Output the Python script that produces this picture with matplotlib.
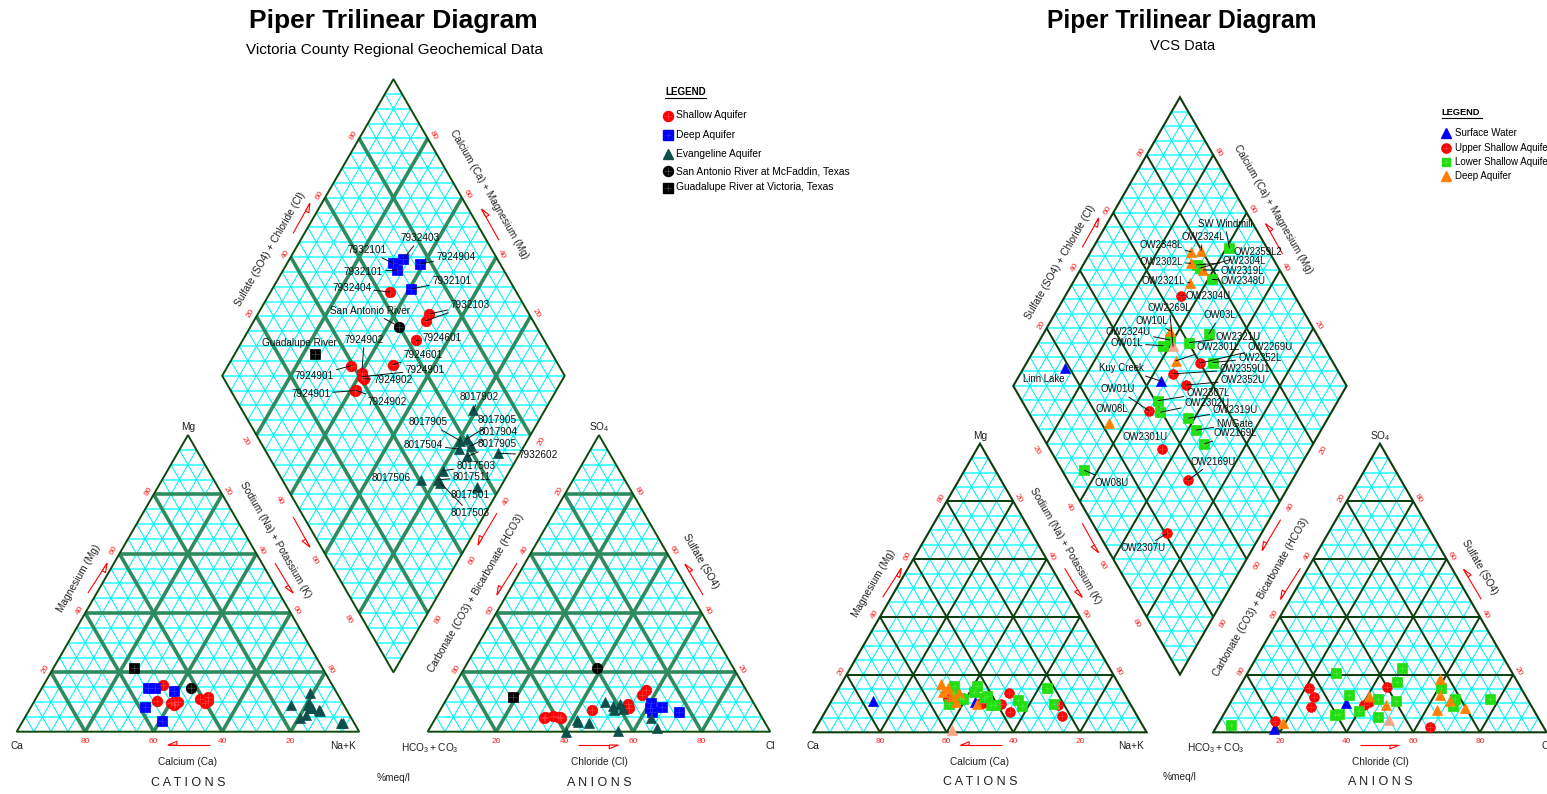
import numpy as np
import matplotlib
matplotlib.use('Agg')
import matplotlib.pyplot as plt
from matplotlib.collections import LineCollection
from matplotlib.patches import Polygon

plt.rcParams['font.family'] = ['Liberation Sans', 'DejaVu Sans']
plt.rcParams['mathtext.fontset'] = 'custom'
plt.rcParams['mathtext.rm'] = 'Liberation Sans'

H = np.sqrt(3) / 2
GAP = 0.2
W, HGT = 1547, 794

# ---------------- Left chart: Victoria County (percent meq/l) ----------------
L_groups = ['Shallow Aquifer', 'Deep Aquifer', 'Evangeline Aquifer',
            'San Antonio River at McFaddin, Texas', 'Guadalupe River at Victoria, Texas']
L_names = ['7932404', '7932103', '7932103', '7924601', '7924601', '7924901', '7924902',
           '7924901', '7924902', '7924901', '7924902',
           '7932403', '7932101', '7932101', '7924904', '7932101',
           '8017902', '8017905', '8017905', '8017904', '8017905', '8017504', '7932602',
           '8017503', '8017511', '8017503', '8017506', '8017501',
           'San Antonio River', 'Guadalupe River']
L_group = [0] * 11 + [1] * 5 + [2] * 12 + [3, 4]
L_mg = [15.7, 11.8, 9.8, 10.5, 10.9, 10.4, 9.6, 10.1, 10.0, 9.0, 9.2,
        8.4, 14.6, 14.6, 13.8, 3.7,
        12.9, 9.6, 8.0, 7.3, 7.0, 7.9, 3.0, 4.7, 9.0, 5.5, 9.0, 3.0,
        14.6, 21.4]
L_na = [35.0, 50.0, 50.2, 50.7, 48.0, 35.9, 40.2, 41.0, 42.0, 41.3, 41.5,
        33.2, 30.9, 33.2, 38.9, 40.6,
        79.2, 80.4, 82.1, 84.5, 85.2, 81.6, 93.7, 80.4, 80.5, 81.6, 75.6, 93.2,
        43.5, 23.6]
L_so4 = [9.2, 14.1, 12.4, 7.9, 7.3, 5.4, 4.7, 5.1, 5.0, 4.7, 4.8,
         8.4, 6.7, 8.0, 6.5, 9.6,
         4.5, 8.7, 9.2, 7.5, 7.3, 10.1, 1.1, 2.8, 3.9, 3.4, 0.0, 0.3,
         21.4, 11.6]
L_cl = [54.0, 56.7, 56.3, 54.7, 44.4, 33.9, 36.6, 35.6, 36.0, 31.6, 31.8,
        64.2, 62.1, 60.8, 70.1, 60.3,
        63.0, 49.8, 51.6, 53.4, 50.7, 46.8, 66.5, 45.6, 41.5, 42.2, 40.5, 55.5,
        38.6, 19.2]

# label text positions (figure pixels from top-left) and leader flags
L_lab = [(351.7, 287.7), (470, 305), (470, 305), (441.7, 338.3), (423.3, 355), (314, 376),
         (364.3, 340), (425, 370), (393.3, 380), (310.7, 394), (386.7, 401.7),
         (420, 238), (366.7, 250), (363.3, 271.7), (456, 256.7), (451.7, 281),
         (479, 397), (428, 422), (497, 420), (498, 432), (497, 444), (423, 445), (538, 455),
         (476, 466), (472, 477), (470, 513), (391, 478), (470, 495),
         (370, 310.7), (299, 343.3)]
L_leader = [1] * 26 + [0, 0, 1, 0]

# ---------------- Right chart: VCS data (percent meq/l) ----------------
R_groups = ['Surface Water', 'Upper Shallow Aquifer', 'Lower Shallow Aquifer', 'Deep Aquifer', None]
R_names = ['Linn Lake', 'Kuy Creek',
           'OW2304U', 'OW2269U', 'OW2359U1', 'OW2352U', 'OW01U', 'OW2301U', 'OW2169U', 'OW2307U',
           'SW Windmill', 'OW2304L', 'OW2359L2', 'OW2348U', 'OW03L', 'OW2324U', 'OW01L', 'OW2321U',
           'OW2352L', 'OW2307L', 'OW2302U', 'OW2319U', 'NWGate', 'OW2169L', 'OW08U',
           'OW2348L', 'OW2324L', 'OW2302L', 'OW2319L', 'OW2321L', 'OW10L', 'OW2301L', 'OW08L',
           'OW2269L']
R_group = [0, 0] + [1] * 8 + [2] * 15 + [3] * 8 + [4]
R_mg = [11.0, 10.4,
        11.4, 13.5, 10.3, 9.7, 10.0, 7.1, 9.5, 5.8,
        16.0, 16.0, 13.5, 13.9, 9.5, 11.5, 12.0, 12.0, 11.2, 12.5, 9.5, 9.1, 15.2, 9.7, 9.7,
        16.7, 15.2, 14.0, 13.5, 12.5, 10.6, 9.7, 13.0, 0.8]
R_na = [12.5, 43.4,
        34.7, 52.1, 45.9, 51.6, 45.2, 55.6, 68.8, 71.6,
        41.0, 34.1, 35.6, 41.2, 49.7, 39.1, 38.1, 45.3, 55.8, 46.0, 48.7, 58.1, 62.5, 67.4, 35.9,
        30.1, 32.9, 32.0, 36.9, 35.1, 37.5, 44.4, 35.2, 41.1]
R_so4 = [1.0, 10.3,
         1.7, 15.6, 9.5, 10.6, 12.3, 8.9, 15.2, 3.9,
         11.4, 15.5, 9.1, 11.4, 22.2, 11.4, 5.2, 10.9, 17.3, 6.4, 6.0, 20.4, 12.9, 7.4, 2.5,
         11.0, 8.5, 12.9, 18.4, 7.7, 9.5, 12.6, 3.3, 4.3]
R_cl = [17.6, 34.8,
        64.2, 44.4, 40.6, 41.3, 24.2, 25.0, 21.0, 16.6,
        77.3, 60.5, 67.3, 66.7, 45.5, 43.6, 46.8, 49.4, 46.6, 34.5, 33.6, 26.5, 34.3, 39.9, 4.2,
        65.6, 71.3, 61.6, 58.7, 63.2, 47.1, 40.5, 19.2, 50.5]
R_lab = [(1043.3, 379), (1121.7, 368.3),
         (1208.3, 296), (1270, 346.7), (1245, 369.3), (1243.3, 380), (1117.3, 389.3),
         (1145, 437.3), (1213.3, 461.7), (1143.3, 548.3),
         (1225, 224), (1244.3, 261), (1258.3, 251.7), (1243.3, 281), (1220, 315.3),
         (1128.3, 331.7), (1126.7, 343.3), (1238.3, 336.7), (1260, 357.7), (1208.3, 392.7),
         (1206.7, 402.7), (1235, 410), (1235, 424), (1235, 433.3), (1111.7, 482.7),
         (1161, 245), (1202.7, 237.3), (1161, 261.7), (1242.7, 271), (1163.3, 281),
         (1151.7, 320.7), (1218.3, 346.7), (1111.7, 409.3), (1169.3, 307.7)]
R_leader = [0, 1, 1, 1, 1, 1, 1, 0, 1, 1] + [1] * 15 + [1] * 7 + [0, 1]

TICKS = [20, 40, 60, 80]

L_styles = [dict(marker='o', color='#ff0000', ms=7.6, cross='#ff4a4a'),
            dict(marker='s', color='#0000ff', ms=7.0, cross='#3a3aff'),
            dict(marker='^', color='#0d4f4b', ms=7.8, cross=None),
            dict(marker='o', color='#000000', ms=7.6, cross='#5a5a5a'),
            dict(marker='s', color='#000000', ms=7.0, cross='#5a5a5a')]
R_styles = [dict(marker='^', color='#0000ff', ms=7.0, cross=None),
            dict(marker='o', color='#ff0000', ms=7.0, cross='#ff4a4a'),
            dict(marker='s', color='#22dd11', ms=6.6, cross='#50ee40'),
            dict(marker='^', color='#ff8000', ms=7.0, cross=None),
            dict(marker='^', color='#f6a58a', ms=7.0, cross=None)]


# ---------------- geometry ----------------
def dpt(c, a):
    """diamond point from Ca+Mg fraction c and SO4+Cl fraction a"""
    return (1 + GAP / 2 + 0.5 * (a - c), H * GAP + H * (a + c))


def cation_xy(mg, na):
    mg = np.asarray(mg) / 100.0
    na = np.asarray(na) / 100.0
    return na + mg / 2, H * mg


def anion_xy(so4, cl):
    so4 = np.asarray(so4) / 100.0
    cl = np.asarray(cl) / 100.0
    return 1 + GAP + cl + so4 / 2, H * so4


def diamond_xy(mg, na, so4, cl):
    c = 1 - np.asarray(na) / 100.0
    a = (np.asarray(so4) + np.asarray(cl)) / 100.0
    return 1 + GAP / 2 + 0.5 * (a - c), H * GAP + H * (a + c)


def draw_frame(ax, thick_color, thick_lw, edge_color, edge_lw):
    hseg, dseg = [], []
    for x0 in (0.0, 1 + GAP):
        for k in range(1, 20):
            t = k / 20
            hseg.append([(x0 + t / 2, t * H), (x0 + 1 - t / 2, t * H)])
            dseg.append([(x0 + t, 0), (x0 + t + (1 - t) / 2, (1 - t) * H)])
            dseg.append([(x0 + 1 - t, 0), (x0 + (1 - t) / 2, (1 - t) * H)])
    for k in range(1, 20):
        t = k / 20
        dseg.append([dpt(t, 0), dpt(t, 1)])
        dseg.append([dpt(0, t), dpt(1, t)])
    for k in range(1, 40):
        s = k / 20
        if s <= 1:
            hseg.append([dpt(s, 0), dpt(0, s)])
        else:
            hseg.append([dpt(1, s - 1), dpt(s - 1, 1)])
    ax.add_collection(LineCollection(hseg, colors='#4dffff', linewidths=1.35, zorder=1))
    ax.add_collection(LineCollection(dseg, colors='#00f0f0', linewidths=0.75, zorder=1.1))

    tseg = []
    for x0 in (0.0, 1 + GAP):
        for v in TICKS:
            t = v / 100
            tseg.append([(x0 + t / 2, t * H), (x0 + 1 - t / 2, t * H)])
            tseg.append([(x0 + t, 0), (x0 + t + (1 - t) / 2, (1 - t) * H)])
            tseg.append([(x0 + 1 - t, 0), (x0 + (1 - t) / 2, (1 - t) * H)])
    for v in TICKS:
        t = v / 100
        tseg.append([dpt(t, 0), dpt(t, 1)])
        tseg.append([dpt(0, t), dpt(1, t)])
    ax.add_collection(LineCollection(tseg, colors=thick_color, linewidths=thick_lw, zorder=2))

    for poly in ([(0, 0), (1, 0), (0.5, H)],
                 [(1 + GAP, 0), (2 + GAP, 0), (1.5 + GAP, H)],
                 [dpt(0, 0), dpt(0, 1), dpt(1, 1), dpt(1, 0)]):
        ax.add_patch(Polygon(poly, closed=True, fill=False, edgecolor=edge_color,
                             linewidth=edge_lw, zorder=3, joinstyle='miter'))


def tick_labels(ax, fs=6.0):
    tc = dict(color='#ff2020', fontsize=fs, ha='center', va='center', rotation_mode='anchor', zorder=4)
    dt, du, dl = 0.018, 0.018, 0.037
    for v in TICKS:
        t = v / 100
        # cation
        ax.text(t / 2 - H * dt, t * H + 0.5 * dt, str(v), rotation=60, **tc)
        ax.text(1 - t / 2 + H * dt, t * H + 0.5 * dt, str(100 - v), rotation=-60, **tc)
        ax.text(1 - t, -0.028, str(v), **tc)
        # anion
        x0 = 1 + GAP
        ax.text(x0 + t / 2 - H * dt, t * H + 0.5 * dt, str(100 - v), rotation=60, **tc)
        ax.text(x0 + 1 - t / 2 + H * dt, t * H + 0.5 * dt, str(v), rotation=-60, **tc)
        ax.text(x0 + t, -0.028, str(v), **tc)
        # diamond
        x, y = dpt(1, t)
        ax.text(x - H * du, y + 0.5 * du, str(v), rotation=60, **tc)
        x, y = dpt(t, 1)
        ax.text(x + H * du, y + 0.5 * du, str(v), rotation=-60, **tc)
        x, y = dpt(t, 0)
        ax.text(x - H * dl, y - 0.5 * dl, str(100 - v), rotation=-60, **tc)
        x, y = dpt(0, t)
        ax.text(x + H * dl, y - 0.5 * dl, str(100 - v), rotation=60, **tc)


def red_arrow(ax, p0, p1):
    p0, p1 = np.array(p0), np.array(p1)
    d = (p1 - p0) / np.linalg.norm(p1 - p0)
    n = np.array([d[1], -d[0]])
    ax.plot([p0[0], p1[0]], [p0[1], p1[1]], color='#ff0000', lw=0.8, zorder=4,
            solid_capstyle='butt')
    L, Wd = 0.026, 0.011
    head = [p1, p1 - L * d + Wd * n, p1 - L * d]
    ax.add_patch(Polygon(head, closed=True, facecolor='white', edgecolor='#ff0000',
                         lw=0.8, zorder=4))


def axis_texts(ax, fs=7.3):
    kw = dict(color='#202020', fontsize=fs, ha='center', va='center', rotation_mode='anchor', zorder=4)
    ax.text(0.5, 0.889, 'Mg', **kw)
    ax.text(0.0, -0.042, 'Ca', **kw)
    ax.text(0.953, -0.042, 'Na+K', **kw)
    ax.text(0.5, -0.088, 'Calcium (Ca)', **kw)
    ax.text(0.5, -0.150, 'C A T I O N S', **dict(kw, fontsize=9))
    ax.text(1.1, -0.135, '%meq/l', **kw)
    ax.text(1.7, 0.889, r'$\mathregular{SO_4}$', **kw)
    ax.text(1.207, -0.047, r'$\mathregular{HCO_3+CO_3}$', **kw)
    ax.text(2.2, -0.042, 'Cl', **kw)
    ax.text(1.7, -0.088, 'Chloride (Cl)', **kw)
    ax.text(1.7, -0.150, 'A N I O N S', **dict(kw, fontsize=9))
    ax.text(0.18, 0.448, 'Magnesium (Mg)', rotation=60, **kw)
    ax.text(0.755, 0.56, 'Sodium (Na) + Potassium (K)', rotation=-60, **kw)
    ax.text(1.342, 0.405, 'Carbonate (CO3) + Bicarbonate (HCO3)', rotation=60, **kw)
    ax.text(1.998, 0.497, 'Sulfate (SO4)', rotation=-60, **kw)
    ax.text(0.74, 1.41, 'Sulfate (SO4) + Chloride (Cl)', rotation=60, **kw)
    ax.text(1.38, 1.57, 'Calcium (Ca) + Magnesium (Mg)', rotation=-60, **kw)
    for p0, p1 in [((0.565, -0.039), (0.4416, -0.039)),
                   ((0.208, 0.405), (0.264, 0.492)),
                   ((0.754, 0.492), (0.807, 0.405)),
                   ((0.807, 0.627), (0.856, 0.539)),
                   ((1.402, 0.638), (1.347, 0.545)),
                   ((1.461, 0.492), (1.402, 0.399)),
                   ((2.004, 0.399), (1.951, 0.489)),
                   ((1.639, -0.039), (1.756, -0.039)),
                   ((0.807, 1.455), (0.856, 1.543)),
                   ((1.408, 1.435), (1.357, 1.526))]:
        red_arrow(ax, p0, p1)


def plot_points(ax, group, mg, na, so4, cl, styles):
    group = np.asarray(group)
    xc, yc = cation_xy(mg, na)
    xa, ya = anion_xy(so4, cl)
    xd, yd = diamond_xy(mg, na, so4, cl)
    for g, st in enumerate(styles):
        m = group == g
        if not m.any():
            continue
        for xs, ys in ((xc[m], yc[m]), (xa[m], ya[m]), (xd[m], yd[m])):
            ax.plot(xs, ys, ls='none', marker=st['marker'], ms=st['ms'], mfc=st['color'],
                    mec=st['color'], mew=0.5, zorder=5, clip_on=False)
            if st['cross']:
                ax.plot(xs, ys, ls='none', marker='+', ms=st['ms'] * 0.75, mec=st['cross'],
                        mew=0.4, zorder=5.1, clip_on=False)
    return xd, yd


def labels(ax, names, xd, yd, pos, leader, fs):
    seen = set()
    for nm, x, y, (px, py), ld in zip(names, xd, yd, pos, leader):
        key = (nm, px, py)
        col = (0, 0, 0, 0) if key in seen else '#111111'
        seen.add(key)
        ap = dict(arrowstyle='-', color='#111111', lw=0.7, shrinkA=0, shrinkB=0) if ld else None
        ax.annotate(nm, xy=(x, y), xycoords='data', xytext=(px, HGT - py),
                    textcoords='figure pixels', ha='center', va='center', fontsize=fs,
                    color=col, arrowprops=ap, zorder=6, annotation_clip=False)


fig = plt.figure(figsize=(W / 100, HGT / 100), dpi=100)

# left panel axes: data unit = 342.5 px, Ca corner at pixel (16.7, 731.7)
s1, ox1, oy1 = 342.5, 16.7, 731.7
axL = fig.add_axes([0, 0, 780 / W, 1])
axL.set_xlim(-ox1 / s1, (780 - ox1) / s1)
axL.set_ylim((oy1 - HGT) / s1, oy1 / s1)
axL.axis('off')

# right panel axes: data unit = 333.3 px, Ca corner at pixel (813.3, 732.3)
s2, ox2, oy2 = 333.3, 813.3, 732.3
axR = fig.add_axes([790 / W, 0, (W - 790) / W, 1])
axR.set_xlim((790 - ox2) / s2, (W - ox2) / s2)
axR.set_ylim((oy2 - HGT) / s2, oy2 / s2)
axR.axis('off')

draw_frame(axL, '#2e8b5f', 2.6, '#0d4a0d', 1.4)
draw_frame(axR, '#0d3d0d', 1.4, '#0d3d0d', 1.5)
for ax in (axL, axR):
    tick_labels(ax)
    axis_texts(ax)

xdL, ydL = plot_points(axL, L_group, L_mg, L_na, L_so4, L_cl, L_styles)
labels(axL, L_names, xdL, ydL, L_lab, L_leader, 7.2)
xdR, ydR = plot_points(axR, R_group, R_mg, R_na, R_so4, R_cl, R_styles)
labels(axR, R_names, xdR, ydR, R_lab, R_leader, 6.9)

# overlay axes in pixel coordinates for titles and legends
axO = fig.add_axes([0, 0, 1, 1])
axO.set_xlim(0, W)
axO.set_ylim(HGT, 0)
axO.axis('off')
axO.patch.set_alpha(0)

axO.text(393, 21, 'Piper Trilinear Diagram', fontsize=19, fontweight='bold', ha='center', va='center')
axO.text(395, 50, 'Victoria County Regional Geochemical Data', fontsize=11, ha='center', va='center')
axO.text(1182, 21, 'Piper Trilinear Diagram', fontsize=17.7, fontweight='bold', ha='center', va='center')
axO.text(1183, 46, 'VCS Data', fontsize=10.5, ha='center', va='center')


def legend(ax, x_mark, x_text, y_title, x_title, ys, groups, styles, fs):
    ax.text(x_title, y_title, 'LEGEND', fontsize=fs - 0.3, fontweight='bold', ha='left', va='center')
    ax.plot([x_title, x_title + 40.5], [y_title + 5.5, y_title + 5.5], color='black', lw=0.8)
    for y, gname, st in zip(ys, groups, styles):
        if gname is None:
            continue
        ax.plot([x_mark], [y], ls='none', marker=st['marker'], ms=st['ms'] * 0.95,
                mfc=st['color'], mec=st['color'], clip_on=False)
        if st['cross']:
            ax.plot([x_mark], [y], ls='none', marker='+', ms=st['ms'] * 0.7, mec=st['cross'],
                    mew=0.4, clip_on=False)
        ax.text(x_text, y, gname, fontsize=fs, ha='left', va='center')


legend(axO, 667.5, 676.5, 92, 665, [115.5, 135, 154, 171, 187.5], L_groups, L_styles, 7.4)
legend(axO, 1446, 1455, 112.5, 1441.5, [133.3, 148.3, 161.7, 176, 190], R_groups, R_styles, 7.0)

fig.savefig('out.png', dpi=100)
